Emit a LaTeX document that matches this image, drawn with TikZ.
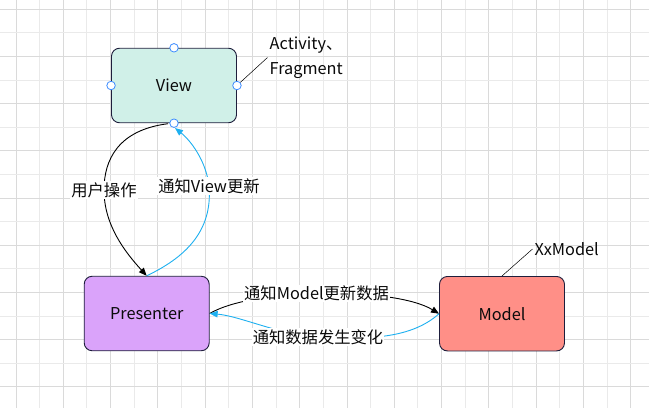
\documentclass[tikz,border=0pt]{standalone}
\usepackage{fontspec}
\setmainfont{Noto Sans CJK SC}
\usetikzlibrary{arrows.meta}
\definecolor{gridmaj}{RGB}{218,218,218}
\definecolor{gridmin}{RGB}{234,234,234}
\definecolor{viewc}{RGB}{208,240,232}
\definecolor{presc}{RGB}{218,163,250}
\definecolor{modelc}{RGB}{255,143,135}
\definecolor{edgec}{RGB}{30,30,60}
\definecolor{bluec}{RGB}{30,176,240}
\definecolor{portc}{RGB}{60,140,255}
\definecolor{txtc}{RGB}{10,10,10}
\tikzset{
  box/.style={draw=edgec, line width=0.9pt, rounded corners=8pt, minimum width=125pt, minimum height=74.5pt, inner sep=0pt, text=txtc, font=\fontsize{16.3}{19}\selectfont},
  port/.style={circle, draw=portc, fill=white, line width=0.8pt, inner sep=0pt, minimum size=8.5pt},
  lab/.style={fill=white, inner sep=1pt, text=txtc, font=\fontsize{16.3}{19}\selectfont},
  note/.style={inner sep=2pt, text=txtc, align=left, font=\fontsize{16.3}{25}\selectfont},
  blackarrow/.style={draw=black, line width=0.9pt, -{Triangle[length=8pt,width=6.5pt]}},
  bluearrow/.style={draw=bluec, line width=0.9pt, -{Triangle[length=8pt,width=6.5pt]}},
  leader/.style={draw=black, line width=0.5pt}
}
\begin{document}
\begin{tikzpicture}[x=1pt,y=-1pt]
\useasboundingbox (0,0) rectangle (649,408);
\fill[white] (0,0) rectangle (649,408);
% grid
\foreach \i in {0,...,26}{
  \pgfmathsetmacro{\xx}{16+23.64*\i}
  \ifodd\i \draw[gridmin, line width=0.9pt] (\xx,0) -- (\xx,408);
  \else \draw[gridmaj, line width=0.9pt] (\xx,0) -- (\xx,408); \fi
}
\foreach \i in {0,...,16}{
  \pgfmathsetmacro{\yy}{9.3+23.6*\i}
  \ifodd\i \draw[gridmin, line width=0.9pt] (0,\yy) -- (649,\yy);
  \else \draw[gridmaj, line width=0.9pt] (0,\yy) -- (649,\yy); \fi
}
% boxes
\node[box, fill=viewc] (view) at (174,85.5) {View};
\node[box, fill=presc] (pres) at (146.7,313.5) {Presenter};
\node[box, fill=modelc] (model) at (502,313.7) {Model};
% notes
\node[note, anchor=west] (act) at (267.5,57.5) {Activity、\\Fragment};
\node[note, anchor=west] (xx) at (532.5,249) {XxModel};
% connectors
\draw[blackarrow] (view.south) ++(-6,0.5) coordinate (vbl)
  .. controls (118,130) and (104,160) .. (104,190)
  node[lab] (l1) {用户操作}
  .. controls (104,225) and (125,252) .. (pres.north);
\draw[bluearrow] (pres.north) .. controls (184,258) and (213,232) .. (209,186)
  node[lab] (l2) {通知View更新}
  .. controls (206,160) and (190,140) .. (175,128);
\draw[blackarrow] (pres.east) .. controls (255,287) and (395,287) .. (model.west)
  node[lab, pos=0.47] (l3) {通知Model更新数据};
\draw[bluearrow] (model.west) .. controls (412,338) and (370,340) .. (318,337)
  node[lab] (l4) {通知数据发生变化}
  .. controls (280,335) and (240,316) .. (pres.east);
% ports
\node[port] (vt) at (view.north) {};
\node[port] (vl) at (view.west) {};
\node[port] (vr) at (view.east) {};
\node[port] (vb) at (view.south) {};
% leaders
\draw[leader] (vr) -- (act.west);
\draw[leader] (model.north) -- (xx.west);
\end{tikzpicture}
\end{document}
